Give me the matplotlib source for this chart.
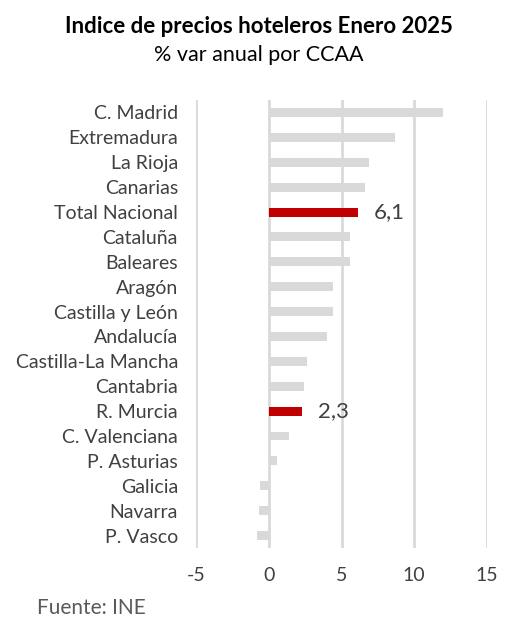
import matplotlib.pyplot as plt

# datos: % var anual IPH por CCAA, enero 2025
regiones = ["C. Madrid", "Extremadura", "La Rioja", "Canarias", "Total Nacional",
            "Cataluña", "Baleares", "Aragón", "Castilla y León", "Andalucía",
            "Castilla-La Mancha", "Cantabria", "R. Murcia", "C. Valenciana",
            "P. Asturias", "Galicia", "Navarra", "P. Vasco"]
valores = [12.0, 8.7, 6.9, 6.6, 6.1, 5.6, 5.6, 4.4, 4.4, 4.0,
           2.6, 2.4, 2.3, 1.4, 0.6, -0.6, -0.7, -0.8]
destacados = ["Total Nacional", "R. Murcia"]

plt.rcParams['font.family'] = ['Lato', 'DejaVu Sans']

fig = plt.figure(figsize=(5.07, 6.19), dpi=100)
ax = fig.add_axes([0.3866, 0.1147, 0.574, 0.7237])

y = list(range(len(regiones)))
colores = ["#c00000" if r in destacados else "#d9d9d9" for r in regiones]
ax.barh(y, valores, height=0.36, color=colores, zorder=3)

for i, (r, v) in enumerate(zip(regiones, valores)):
    if r in destacados:
        ax.text(v + 1.1, i, f"{v:.1f}".replace(".", ","), va="center", ha="left",
                fontsize=16, color="#404040")

ax.set_xlim(-5, 15)
ax.set_ylim(len(regiones) - 0.5, -0.5)
ax.set_xticks([-5, 0, 5, 10, 15])
ax.set_xticklabels(["-5", "0", "5", "10", "15"])
ax.set_yticks(y)
ax.set_yticklabels(regiones)
ax.grid(axis="x", color="#d9d9d9", linewidth=2, zorder=0)
ax.tick_params(axis="both", length=0, labelsize=14, colors="#404040")
ax.tick_params(axis="y", pad=13)
ax.tick_params(axis="x", pad=14)
for s in ax.spines.values():
    s.set_visible(False)

fig.text(0.51, 0.957, "Indice de precios hoteleros Enero 2025", ha="center", va="center",
         fontsize=16, fontweight="bold", color="black")
fig.text(0.51, 0.911, "% var anual por CCAA", ha="center", va="center",
         fontsize=15.5, color="black")
fig.text(0.073, 0.018, "Fuente: INE", ha="left", va="center", fontsize=15, color="#595959")

fig.savefig("out.png", dpi=100)
